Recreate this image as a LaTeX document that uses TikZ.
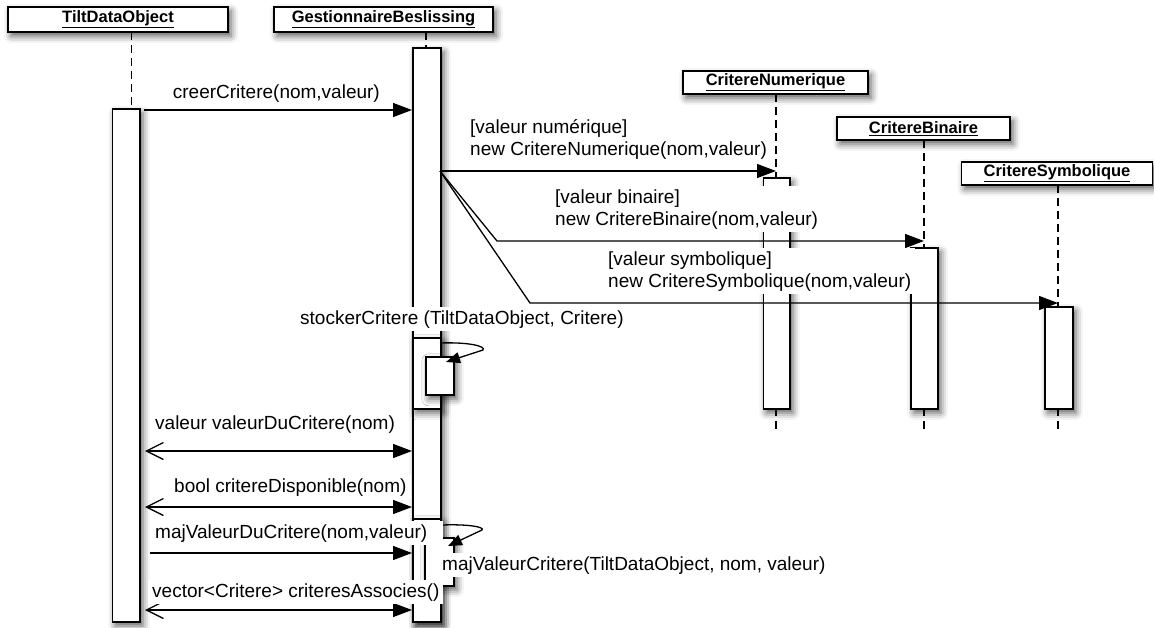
\documentclass[tikz,border=0pt]{standalone}
\usepackage{fontspec}
\setmainfont{Liberation Sans}
\usetikzlibrary{arrows.meta,shadows.blur}
\tikzset{
  shad/.style={blur shadow={shadow xshift=3pt, shadow yshift=-4pt, shadow blur radius=7pt, shadow opacity=65}},
  hdr/.style={draw, line width=1.7pt, fill=white, shad, inner sep=0pt,
    font=\fontsize{16.5}{18}\selectfont\bfseries},
  act/.style={draw, line width=1.7pt, fill=white, shad, inner sep=0pt, anchor=north west},
  life/.style={dash pattern=on 8pt off 5pt, line width=1.3pt},
  msg/.style={line width=1.3pt, -{Triangle[length=19pt,width=14pt]}},
  msgb/.style={line width=1.3pt, {Straight Barb[length=17pt,width=17pt]}-{Triangle[length=19pt,width=14pt]}},
  selfmsg/.style={line width=1.3pt, -{Triangle[length=14pt,width=11pt]}},
  lbl/.style={fill=white, inner xsep=4pt, inner ysep=3pt, anchor=base west, align=left,
    font=\fontsize{19}{22}\selectfont},
}
\begin{document}
\begin{tikzpicture}[x=1pt,y=-1pt]
\useasboundingbox (0,0) rectangle (1154,627);
% headers
\node[hdr, minimum width=220pt, minimum height=25pt] (tilt) at (118,19.5) {\underline{TiltDataObject}};
\node[hdr, minimum width=219pt, minimum height=25pt] (gest) at (383.5,19.5) {\underline{GestionnaireBeslissing}};
\node[hdr, minimum width=185pt, minimum height=23pt] (num) at (775.5,82.5) {\underline{CritereNumerique}};
\node[hdr, minimum width=173pt, minimum height=23pt] (bin) at (923.5,128.5) {\underline{CritereBinaire}};
\node[hdr, minimum width=191pt, minimum height=23pt] (sym) at (1057,173.5) {\underline{CritereSymbolique}};
% lifelines
\coordinate (tl1) at (131.7,32);  \coordinate (tl2) at (131.7,108);
\coordinate (gl1) at (426,32);    \coordinate (gl2) at (426,47);
\coordinate (nl1) at (776,94);    \coordinate (nl2) at (776,177);
\coordinate (nl3) at (776,408);   \coordinate (nl4) at (776,433);
\coordinate (bl1) at (924,140);   \coordinate (bl2) at (924,247);
\coordinate (bl3) at (924,408);   \coordinate (bl4) at (924,433);
\coordinate (sl1) at (1058,185);  \coordinate (sl2) at (1058,306);
\coordinate (sl3) at (1058,408);  \coordinate (sl4) at (1058,433);
\draw[life] (tl1) -- (tl2);
\draw[life] (gl1) -- (gl2);
\draw[life] (nl1) -- (nl2);
\draw[life] (nl3) -- (nl4);
\draw[life] (bl1) -- (bl2);
\draw[life] (bl3) -- (bl4);
\draw[life] (sl1) -- (sl2);
\draw[life] (sl3) -- (sl4);
% activation boxes
\node[act, minimum width=27.5pt, minimum height=513pt] (tiltA) at (111.5,108) {};
\node[act, minimum width=28pt, minimum height=574pt] (gestA) at (412,47) {};
\node[act, minimum width=28pt, minimum height=71pt] (gestB) at (412,337) {};
\node[act, minimum width=28pt, minimum height=38pt] (stoN) at (425,356) {};
\node[act, minimum width=28pt, minimum height=103pt] (gestC) at (412,518) {};
\node[act, minimum width=29pt, minimum height=48pt] (majN) at (424,537) {};
\node[act, minimum width=26.5pt, minimum height=231pt] (numA) at (762.5,177) {};
\node[act, minimum width=27pt, minimum height=161pt] (binA) at (910,247) {};
\node[act, minimum width=28pt, minimum height=102pt] (symA) at (1044,306) {};
% message end points
\coordinate (m1a) at (144,110);  \coordinate (m1b) at (412,110);
\coordinate (fork) at (440,171);
\coordinate (m2b) at (776,171);
\coordinate (k3) at (497,241);   \coordinate (m3b) at (924,241);
\coordinate (k4) at (530,303);   \coordinate (m4b) at (1058,303);
\coordinate (s1a) at (440,343);  \coordinate (s1m) at (483,350); \coordinate (s1b) at (446,362);
\coordinate (m5a) at (145,451);  \coordinate (m5b) at (412,451);
\coordinate (m6a) at (145,507);  \coordinate (m6b) at (412,507);
\coordinate (m7a) at (150,553);  \coordinate (m7b) at (412,553);
\coordinate (s2a) at (442,525);  \coordinate (s2m) at (482,530); \coordinate (s2b) at (448,546);
\coordinate (m8a) at (145,610);  \coordinate (m8b) at (412,610);
% messages
\draw[msg] (m1a) -- (m1b);
\draw[msg] (fork) -- (m2b);
\draw[msg] (fork) -- (k3) -- (m3b);
\draw[msg] (fork) -- (k4) -- (m4b);
\draw[selfmsg] (s1a) .. controls (468,342) and (486,346) .. (s1m) -- (s1b);
\draw[msgb] (m5a) -- (m5b);
\draw[msgb] (m6a) -- (m6b);
\draw[msg] (m7a) -- (m7b);
\draw[selfmsg] (s2a) .. controls (468,524) and (485,527) .. (s2m) -- (s2b);
\draw[msgb] (m8a) -- (m8b);
% labels
\node[lbl] (l1) at (168.7,98) {creerCritere(nom,valeur)};
\node[lbl] (l2) at (466,155) {[valeur numérique]\\new CritereNumerique(nom,valeur)};
\node[lbl] (l3) at (551,225) {[valeur binaire]\\new CritereBinaire(nom,valeur)};
\node[lbl] (l4) at (604,287) {[valeur symbolique]\\new CritereSymbolique(nom,valeur)};
\node[lbl] (l5) at (296,324) {stockerCritere (TiltDataObject, Critere)};
\node[lbl] (l6) at (151,429) {valeur valeurDuCritere(nom)};
\node[lbl] (l7) at (170,492) {bool critereDisponible(nom)};
\node[lbl] (l8) at (151,538) {majValeurDuCritere(nom,valeur)\hspace*{12pt}};
\node[lbl, inner xsep=11pt] (l9) at (431,570) {majValeurCritere(TiltDataObject, nom, valeur)};
\node[lbl] (l10) at (148,597) {vector<Critere> criteresAssocies()};
\end{tikzpicture}
\end{document}
